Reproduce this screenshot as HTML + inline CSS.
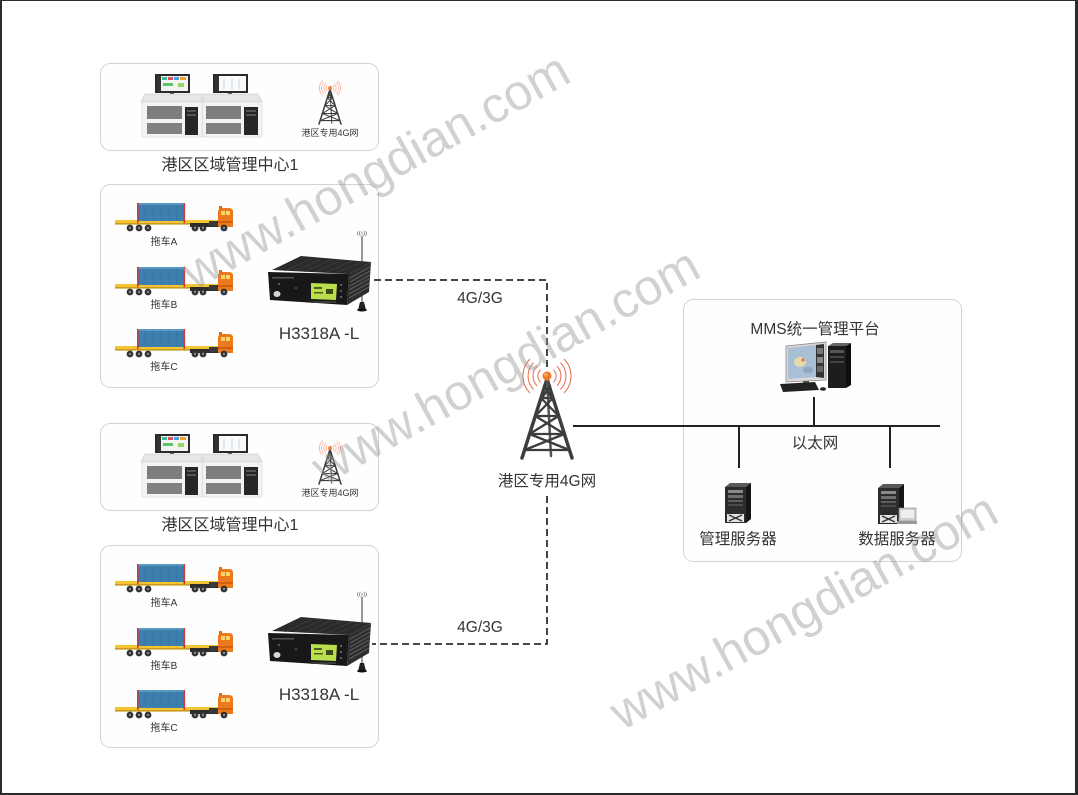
<!DOCTYPE html>
<html>
<head>
<meta charset="utf-8">
<style>
  html,body{margin:0;padding:0;background:#fff;}
  body{width:1078px;height:795px;overflow:hidden;}
  svg{display:block;}
  .t{font-family:"Liberation Sans","Noto Sans CJK SC",sans-serif;fill:#333;}
</style>
</head>
<body>
<svg width="1078" height="795" viewBox="0 0 1078 795" xmlns="http://www.w3.org/2000/svg">
  <defs>
    <g id="truck">
      <rect x="0" y="17" width="106" height="3" fill="#f3c531"/>
      <rect x="0" y="20" width="106" height="1.6" fill="#c99a1c"/>
      <rect x="23" y="0" width="46" height="18" fill="#3d7fae"/>
      <rect x="23" y="0" width="46" height="2" fill="#5a97c2"/>
      <line x1="30" y1="2" x2="30" y2="17" stroke="#35729d" stroke-width="0.8"/>
      <line x1="38" y1="2" x2="38" y2="17" stroke="#35729d" stroke-width="0.8"/>
      <line x1="46" y1="2" x2="46" y2="17" stroke="#35729d" stroke-width="0.8"/>
      <line x1="54" y1="2" x2="54" y2="17" stroke="#35729d" stroke-width="0.8"/>
      <line x1="62" y1="2" x2="62" y2="17" stroke="#35729d" stroke-width="0.8"/>
      <rect x="22" y="0" width="1.6" height="20" fill="#d6363a"/>
      <rect x="68.5" y="0" width="1.6" height="20" fill="#d6363a"/>
      <rect x="75" y="20" width="38" height="4" fill="#2c2c2c"/>
      <rect x="94" y="18" width="9" height="5" fill="#3a3a3a"/>
      <path d="M103,24 L103,9 Q103,5 107,5 L114,5 Q118,5 118,9 L118,24 Z" fill="#ec7a1c"/>
      <rect x="104" y="3" width="3" height="3" fill="#e06a10"/>
      <rect x="106" y="8" width="4" height="4" fill="#fbd36b"/>
      <rect x="111" y="8" width="4" height="4" fill="#fbd36b"/>
      <rect x="103" y="18" width="15" height="2" fill="#d2600f"/>
      <g fill="#333">
        <circle cx="15" cy="25" r="3.4"/><circle cx="24" cy="25" r="3.4"/><circle cx="33" cy="25" r="3.4"/>
        <circle cx="80" cy="25" r="3.4"/><circle cx="88" cy="25" r="3.4"/><circle cx="109" cy="25" r="3.4"/>
      </g>
      <g fill="#888">
        <circle cx="15" cy="25" r="1.2"/><circle cx="24" cy="25" r="1.2"/><circle cx="33" cy="25" r="1.2"/>
        <circle cx="80" cy="25" r="1.2"/><circle cx="88" cy="25" r="1.2"/><circle cx="109" cy="25" r="1.2"/>
      </g>
    </g>

    <g id="tower">
      <g fill="none" stroke="#e8694a" stroke-width="1">
        <path d="M-6.4,-6.4 A9,9 0 0 0 -6.4,6.4"/>
        <path d="M6.4,-6.4 A9,9 0 0 1 6.4,6.4"/>
        <path d="M-9.9,-9.9 A14,14 0 0 0 -9.9,9.9"/>
        <path d="M9.9,-9.9 A14,14 0 0 1 9.9,9.9"/>
        <path d="M-13.4,-13.4 A19,19 0 0 0 -13.4,13.4"/>
        <path d="M13.4,-13.4 A19,19 0 0 1 13.4,13.4"/>
        <path d="M-17,-17 A24,24 0 0 0 -17,17"/>
        <path d="M17,-17 A24,24 0 0 1 17,17"/>
      </g>
      <g stroke="#3d3d3d" stroke-linecap="round" fill="none">
        <line x1="0" y1="3" x2="-25" y2="82" stroke-width="3.5"/>
        <line x1="0" y1="3" x2="25" y2="82" stroke-width="3.5"/>
        <line x1="0" y1="3" x2="4" y2="80" stroke-width="2.5" stroke="#555"/>
        <g stroke-width="2.3">
          <line x1="-6" y1="22" x2="6" y2="22"/>
          <line x1="-11.7" y1="40" x2="11.7" y2="40"/>
          <line x1="-17.4" y1="58" x2="17.4" y2="58"/>
          <line x1="-22.4" y1="74" x2="22.4" y2="74"/>
          <line x1="-6" y1="22" x2="11.7" y2="40"/>
          <line x1="6" y1="22" x2="-11.7" y2="40"/>
          <line x1="-11.7" y1="40" x2="17.4" y2="58"/>
          <line x1="11.7" y1="40" x2="-17.4" y2="58"/>
          <line x1="-17.4" y1="58" x2="22.4" y2="74"/>
          <line x1="17.4" y1="58" x2="-22.4" y2="74"/>
          <line x1="-3" y1="10" x2="5" y2="22"/>
          <line x1="3" y1="10" x2="-5" y2="22"/>
        </g>
      </g>
      <circle cx="0" cy="0" r="4.5" fill="#f07a24"/>
      <circle cx="-1.2" cy="-1.3" r="1.8" fill="#f9a55c"/>
    </g>

    <g id="desks">
      <rect x="155" y="74" width="35" height="19" fill="#2a2a2a"/>
      <rect x="157" y="76" width="31" height="15" fill="#f4f4f4"/>
      <rect x="157" y="76" width="4" height="15" fill="#333"/>
      <rect x="162" y="77" width="5" height="3" fill="#3fb98a"/>
      <rect x="168" y="77" width="5" height="3" fill="#e0505a"/>
      <rect x="174" y="77" width="5" height="3" fill="#4aa3e0"/>
      <rect x="180" y="77" width="6" height="3" fill="#f0a030"/>
      <rect x="163" y="83" width="10" height="3" fill="#5ec46a"/>
      <rect x="178" y="83" width="6" height="4" fill="#9ad36a"/>
      <rect x="170" y="93" width="4" height="2" fill="#444"/>
      <ellipse cx="172" cy="95.5" rx="7" ry="1.3" fill="#333"/>
      <rect x="213" y="74" width="35" height="19" fill="#2a2a2a"/>
      <rect x="215" y="76" width="31" height="15" fill="#fafafa"/>
      <rect x="215" y="76" width="4" height="15" fill="#333"/>
      <line x1="224" y1="79" x2="224" y2="89" stroke="#c9d4e6" stroke-width="1"/>
      <line x1="232" y1="79" x2="232" y2="89" stroke="#c9d4e6" stroke-width="1"/>
      <line x1="239" y1="79" x2="239" y2="89" stroke="#c9d4e6" stroke-width="1"/>
      <rect x="228" y="93" width="4" height="2" fill="#444"/>
      <ellipse cx="230" cy="95.5" rx="7" ry="1.3" fill="#333"/>
      <polygon points="145,94 201,94 203,102 141,102" fill="#e6e6e6" stroke="#c8c8c8" stroke-width="0.6"/>
      <polygon points="203,94 258,94 262,102 203,102" fill="#e6e6e6" stroke="#c8c8c8" stroke-width="0.6"/>
      <rect x="142" y="102" width="60" height="35" fill="#f3f3f3" stroke="#d6d6d6" stroke-width="0.6"/>
      <rect x="203" y="102" width="59" height="35" fill="#f3f3f3" stroke="#d6d6d6" stroke-width="0.6"/>
      <rect x="147" y="106" width="35" height="13" fill="#7d7d7d"/>
      <rect x="147" y="123" width="35" height="11" fill="#808080"/>
      <rect x="185" y="107" width="13" height="28" fill="#262626"/>
      <rect x="187" y="110" width="9" height="2" fill="#555"/>
      <rect x="187" y="114" width="9" height="2" fill="#555"/>
      <rect x="206" y="106" width="35" height="13" fill="#7d7d7d"/>
      <rect x="206" y="123" width="35" height="11" fill="#808080"/>
      <rect x="244" y="107" width="14" height="28" fill="#262626"/>
      <rect x="246" y="110" width="10" height="2" fill="#555"/>
      <rect x="246" y="114" width="10" height="2" fill="#555"/>
    </g>

    <g id="device">
      <line x1="362" y1="236" x2="362" y2="306" stroke="#555" stroke-width="1.2"/>
      <text x="362" y="235" text-anchor="middle" font-family="Liberation Serif, serif" font-size="6" fill="#444">((ı))</text>
      <polygon points="272,270 301,256 371,262 349,274" fill="#2b2b2b"/>
      <g stroke="#444" stroke-width="0.6">
        <line x1="285" y1="271" x2="312" y2="258"/>
        <line x1="295" y1="271" x2="322" y2="259"/>
        <line x1="305" y1="272" x2="332" y2="259"/>
        <line x1="315" y1="272" x2="342" y2="260"/>
        <line x1="325" y1="273" x2="352" y2="261"/>
        <line x1="335" y1="273" x2="362" y2="262"/>
      </g>
      <polygon points="268,272 349,274 347,305 270,300" fill="#181818"/>
      <polygon points="349,274 371,262 369,292 347,305" fill="#2e2e2e"/>
      <g stroke="#666" stroke-width="0.8">
        <line x1="350" y1="278" x2="370" y2="267"/>
        <line x1="350" y1="282" x2="370" y2="271"/>
        <line x1="350" y1="286" x2="370" y2="275"/>
        <line x1="349" y1="290" x2="369" y2="279"/>
        <line x1="349" y1="294" x2="369" y2="283"/>
        <line x1="349" y1="298" x2="369" y2="287"/>
      </g>
      <polygon points="311,283 337,284 336,300 311,299" fill="#b9e04c"/>
      <rect x="314" y="287" width="8" height="2" fill="#4a5a20"/>
      <rect x="326" y="289" width="7" height="5" fill="#3c4a18"/>
      <rect x="314" y="292" width="9" height="1.5" fill="#4a5a20"/>
      <rect x="311" y="301" width="25" height="2" fill="#3a3a3a"/>
      <ellipse cx="277" cy="294" rx="3.5" ry="3" fill="#d8d8d8"/>
      <rect x="272" y="277" width="22" height="1.5" fill="#555"/>
      <circle cx="279" cy="284" r="1.3" fill="#555"/>
      <circle cx="296" cy="288" r="1.3" fill="#444"/>
      <circle cx="341" cy="285" r="1" fill="#777"/>
      <circle cx="341" cy="291" r="1" fill="#777"/>
      <circle cx="341" cy="297" r="1" fill="#777"/>
      <path d="M358,310 L360,302 L364,302 L366,310 Z" fill="#222"/>
      <ellipse cx="362" cy="310" rx="5" ry="1.5" fill="#111"/>
    </g>

    <g id="server">
      <polygon points="0,4 5,0 26,0 21,4" fill="#5a5a5a"/>
      <rect x="0" y="4" width="21" height="36" fill="#2c2c2c"/>
      <polygon points="21,4 26,0 26,36 21,40" fill="#151515"/>
      <rect x="3" y="7" width="15" height="3" fill="#8a8a8a"/>
      <rect x="3" y="12" width="15" height="3" fill="#6f6f6f"/>
      <rect x="3" y="17" width="15" height="2" fill="#5c5c5c"/>
      <rect x="3" y="21" width="15" height="2" fill="#4a4a4a"/>
      <rect x="2" y="31" width="17" height="8" fill="#e4e4e4"/>
      <path d="M4,32 L17,38 M17,32 L4,38" stroke="#333" stroke-width="1.4"/>
    </g>
  </defs>

  <rect x="0" y="0" width="1078" height="1" fill="#2b2b2b"/>
  <rect x="0" y="0" width="2" height="795" fill="#2b2b2b"/>
  <rect x="1075" y="0" width="3" height="795" fill="#2b2b2b"/>
  <rect x="0" y="793" width="1078" height="2" fill="#2b2b2b"/>

  <g fill="#fefefe" stroke="#d2d2d2" stroke-width="1">
    <rect x="100.5" y="63.5" width="278" height="87" rx="10"/>
    <rect x="100.5" y="184.5" width="278" height="203" rx="10"/>
    <rect x="100.5" y="423.5" width="278" height="87" rx="10"/>
    <rect x="100.5" y="545.5" width="278" height="202" rx="10"/>
    <rect x="683.5" y="299.5" width="278" height="262" rx="10"/>
  </g>

  <use href="#desks"/>
  <g transform="translate(330,88) scale(0.44)"><use href="#tower"/></g>
  <text class="t" x="330" y="136" text-anchor="middle" font-size="9">港区专用4G网</text>
  <text class="t" x="230" y="170" text-anchor="middle" font-size="16">港区区域管理中心1</text>

  <g transform="translate(0,360)">
    <use href="#desks"/>
    <g transform="translate(330,88) scale(0.44)"><use href="#tower"/></g>
    <text class="t" x="330" y="136" text-anchor="middle" font-size="9">港区专用4G网</text>
    <text class="t" x="230" y="170" text-anchor="middle" font-size="16">港区区域管理中心1</text>
  </g>

  <g>
    <use href="#truck" x="115" y="203"/>
    <use href="#truck" x="115" y="267"/>
    <use href="#truck" x="115" y="329"/>
    <text class="t" x="164" y="245" text-anchor="middle" font-size="10">拖车A</text>
    <text class="t" x="164" y="308" text-anchor="middle" font-size="10">拖车B</text>
    <text class="t" x="164" y="370" text-anchor="middle" font-size="10">拖车C</text>
    <use href="#device"/>
    <text class="t" x="319" y="339" text-anchor="middle" font-size="17">H3318A -L</text>
  </g>

  <g transform="translate(0,361)">
    <use href="#truck" x="115" y="203"/>
    <use href="#truck" x="115" y="267"/>
    <use href="#truck" x="115" y="329"/>
    <text class="t" x="164" y="245" text-anchor="middle" font-size="10">拖车A</text>
    <text class="t" x="164" y="308" text-anchor="middle" font-size="10">拖车B</text>
    <text class="t" x="164" y="370" text-anchor="middle" font-size="10">拖车C</text>
    <use href="#device"/>
    <text class="t" x="319" y="339" text-anchor="middle" font-size="17">H3318A -L</text>
  </g>

  <g fill="none" stroke="#2f2f2f" stroke-width="1.8" stroke-dasharray="7 4">
    <path d="M374,280 H547 V368"/>
    <path d="M547,496 V644 H372"/>
  </g>
  <text class="t" x="480" y="303" text-anchor="middle" font-size="15.5">4G/3G</text>
  <text class="t" x="480" y="632" text-anchor="middle" font-size="15.5">4G/3G</text>

  <g transform="translate(547,376)"><use href="#tower"/></g>
  <text class="t" x="547" y="486" text-anchor="middle" font-size="15.5">港区专用4G网</text>

  <g stroke="#222" stroke-width="2" fill="none">
    <line x1="573" y1="426" x2="940" y2="426"/>
    <line x1="814" y1="397" x2="814" y2="426"/>
    <line x1="739" y1="426" x2="739" y2="468"/>
    <line x1="890" y1="426" x2="890" y2="468"/>
  </g>
  <text class="t" x="815" y="334" text-anchor="middle" font-size="15.5">MMS统一管理平台</text>
  <text class="t" x="815" y="448" text-anchor="middle" font-size="15.5">以太网</text>
  <text class="t" x="738" y="544" text-anchor="middle" font-size="15.5">管理服务器</text>
  <text class="t" x="897" y="544" text-anchor="middle" font-size="15.5">数据服务器</text>

  <g>
    <polygon points="786,346 826,342 826,380 786,382" fill="#d8d8d8" stroke="#888" stroke-width="0.8"/>
    <polygon points="788,348 816,345 816,377 788,379" fill="#a9c0d4"/>
    <polygon points="816,345 824,344 824,378 816,377" fill="#333"/>
    <rect x="817" y="348" width="6" height="6" fill="#777"/>
    <rect x="817" y="357" width="6" height="6" fill="#888"/>
    <rect x="817" y="366" width="6" height="6" fill="#666"/>
    <ellipse cx="800" cy="362" rx="6" ry="5" fill="#e8d8b0"/>
    <circle cx="803" cy="360" r="1.6" fill="#e07030"/>
    <ellipse cx="808" cy="370" rx="5" ry="3" fill="#8aa6c0"/>
    <rect x="803" y="381" width="6" height="4" fill="#555"/>
    <polygon points="780,384 815,382 819,390 783,392" fill="#222"/>
    <ellipse cx="823" cy="389" rx="3" ry="1.8" fill="#222"/>
    <polygon points="828,346 833,343 851,343 846,346" fill="#666"/>
    <rect x="828" y="346" width="18" height="42" fill="#1d1d1d"/>
    <polygon points="846,346 851,343 851,385 846,388" fill="#0e0e0e"/>
    <rect x="830" y="350" width="14" height="3" fill="#555"/>
    <rect x="830" y="356" width="14" height="2" fill="#444"/>
    <rect x="830" y="361" width="14" height="2" fill="#444"/>
  </g>

  <use href="#server" x="725" y="483"/>
  <use href="#server" x="878" y="484"/>
  <g>
    <rect x="899" y="508" width="17" height="13" fill="#cfcfcf" stroke="#888" stroke-width="0.6"/>
    <rect x="901" y="510" width="13" height="8" fill="#eee"/>
    <rect x="897" y="521" width="20" height="3" fill="#999"/>
  </g>

  <g font-family="Liberation Sans, sans-serif" font-size="50" fill="#9a9a9a" fill-opacity="0.45" text-anchor="middle">
    <text x="375" y="188" transform="rotate(-29 375 170)">www.hongdian.com</text>
    <text x="505" y="383" transform="rotate(-29 505 365)">www.hongdian.com</text>
    <text x="803" y="628" transform="rotate(-29 803 610)">www.hongdian.com</text>
  </g>
</svg>
</body>
</html>
